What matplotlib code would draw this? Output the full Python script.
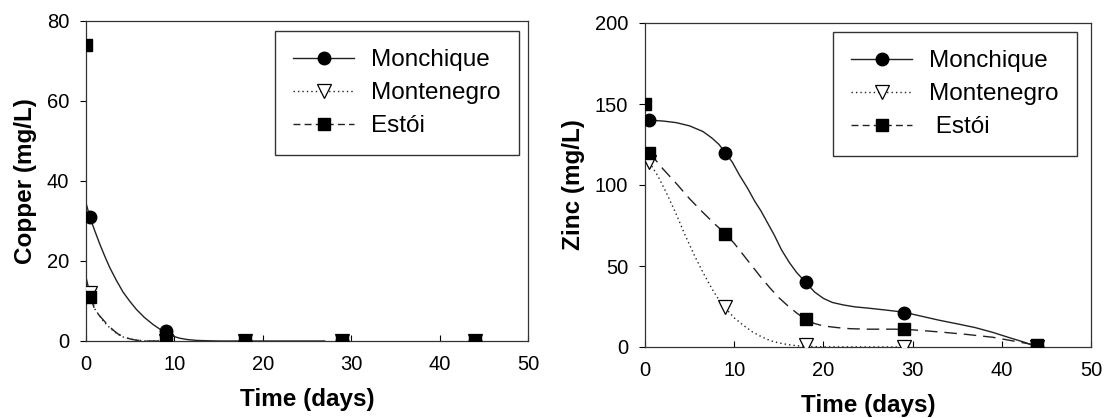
import matplotlib
matplotlib.use("Agg")
import matplotlib.pyplot as plt

plt.rcParams['font.family'] = ['Liberation Sans', 'DejaVu Sans']

# ---------------- data ----------------
series_names = ["Monchique", "Montenegro", "Estói"]

# Copper (mg/L)
cu_mon_t = [0.5, 9, 18, 29, 44]
cu_mon_v = [31, 2.6, 0, 0, 0]
cu_mtn_t = [0.5, 9, 18, 29, 44]
cu_mtn_v = [12, 0, 0, 0, 0]
cu_est_t = [0, 0.5, 9, 18, 29, 44]
cu_est_v = [74, 11, 0.4, 0, 0, 0]

# fitted curves (copper)
cu_mon_fit_t = [0, 0.45, 1.0, 1.6, 2.2, 2.7, 3.4, 4.2, 5.0, 5.7, 6.6, 7.6, 8.4, 9.1, 10.0,
                10.6, 11.5, 12.5, 14, 15, 27]
cu_mon_fit_v = [34.5, 30.9, 27.5, 24.0, 20.8, 18.3, 15.3, 12.2, 9.8, 7.9, 5.9, 4.1, 2.9, 2.0,
                1.1, 0.7, 0.35, 0.15, 0.05, 0, 0]
cu_mtn_fit_t = [0, 0.5, 1.0, 1.5, 1.96, 2.5, 3.1, 3.6, 4.2, 5.0, 5.7, 7, 9]
cu_mtn_fit_v = [15.5, 11.5, 8.0, 6.4, 5.0, 3.7, 2.5, 1.7, 1.0, 0.5, 0.2, 0, 0]
cu_est_fit_t = [0, 0.5, 1.0, 1.5, 1.96, 2.5, 3.1, 3.6, 4.2, 5.0, 5.7, 7, 9]
cu_est_fit_v = [16, 11, 7.8, 6.4, 5.25, 3.9, 2.7, 1.8, 1.1, 0.5, 0.2, 0, 0]

# Zinc (mg/L)
zn_mon_t = [0.5, 9, 18, 29, 44]
zn_mon_v = [140, 120, 40, 21, 0]
zn_mtn_t = [0.5, 9, 18, 29, 44]
zn_mtn_v = [114, 25, 1, 0, 0]
zn_est_t = [0, 0.5, 9, 18, 29, 44]
zn_est_v = [150, 120, 70, 17, 11, 1]

# fitted curves (zinc)
zn_mon_fit_t = [0.5, 2, 3.5, 5, 6.5, 7.5, 8.3, 9, 9.8, 10.6, 11.5, 12.3, 13, 13.7, 14.5, 15.3,
                16.2, 17, 18, 19, 20, 21, 22.2, 23.5, 25, 27, 29, 31, 33, 35, 37, 39, 41,
                42.5, 44]
zn_mon_fit_v = [140, 139.5, 138.5, 136.5, 133, 129, 125, 120, 114, 106, 98, 90, 84, 77, 69, 60,
                52, 46, 40, 34, 30, 27.5, 26, 24.8, 24, 22.8, 21.5, 19, 16.5, 14.3, 12, 9, 5.5,
                3, 0]
zn_mtn_fit_t = [0.5, 1.5, 2.5, 3.5, 4.5, 5.5, 6.5, 7.5, 8.3, 9, 10, 11, 12, 13, 14, 15, 16, 17,
                18, 20, 29]
zn_mtn_fit_v = [114, 105, 94, 82, 69, 57, 46, 36, 29, 24, 18, 13.5, 9.5, 6.5, 4, 2.5, 1.5, 0.8,
                0.4, 0.1, 0]
zn_est_fit_t = [0.5, 2, 3.5, 5, 6.5, 8, 9, 10, 11, 12, 13, 14, 15, 16, 17, 18, 19, 20, 21.5,
                23, 25, 28, 30, 33, 36, 39, 42, 44]
zn_est_fit_v = [120, 110, 101, 91.5, 83, 75, 70, 64, 57, 50, 43, 36.5, 30.5, 25.5, 21, 17,
                14.5, 13, 12, 11.3, 11, 11, 10.6, 9.3, 7.8, 6, 3, 1]

cu_xticks = [0, 10, 20, 30, 40, 50]
cu_yticks = [0, 20, 40, 60, 80]
zn_xticks = [0, 10, 20, 30, 40, 50]
zn_yticks = [0, 50, 100, 150, 200]

# ---------------- figure ----------------
W, H = 1105, 418
fig = plt.figure(figsize=(W / 100, H / 100), dpi=100)

ax1 = fig.add_axes([86 / W, (H - 341) / H, 442 / W, 320 / H])
ax2 = fig.add_axes([645 / W, (H - 347) / H, 446 / W, 324 / H])

lc = '#222222'
lw = 1.0
ms = 9
dash_est = (0, (9, 5))
dot_mtn = (0, (1, 2.2))


def draw(ax, mon, mtn, est, mon_fit, mtn_fit, est_fit):
    ax.plot(*mon_fit, color=lc, lw=lw, ls='-', zorder=2)
    ax.plot(*mtn_fit, color=lc, lw=lw, ls=dot_mtn, zorder=2)
    ax.plot(*est_fit, color=lc, lw=lw, ls=dash_est, zorder=2)
    ax.plot(*mon, ls='none', marker='o', ms=ms, mfc='black', mec='black', zorder=3)
    ax.plot(*mtn, ls='none', marker='v', ms=ms + 0.5, mfc='white', mec='black', mew=0.9, zorder=3)
    ax.plot(*est, ls='none', marker='s', ms=ms - 0.5, mfc='black', mec='black', zorder=4)
    # legend proxies
    h1, = ax.plot([], [], color=lc, lw=lw, ls='-', marker='o', ms=ms, mfc='black', mec='black')
    h2, = ax.plot([], [], color=lc, lw=lw, ls=dot_mtn, marker='v', ms=ms + 0.5, mfc='white',
                  mec='black', mew=0.9)
    h3, = ax.plot([], [], color=lc, lw=lw, ls=(0, (5, 3)), marker='s', ms=ms - 0.5,
                  mfc='black', mec='black')
    return [h1, h2, h3]


handles1 = draw(ax1, (cu_mon_t, cu_mon_v), (cu_mtn_t, cu_mtn_v), (cu_est_t, cu_est_v),
                (cu_mon_fit_t, cu_mon_fit_v), (cu_mtn_fit_t, cu_mtn_fit_v),
                (cu_est_fit_t, cu_est_fit_v))
handles2 = draw(ax2, (zn_mon_t, zn_mon_v), (zn_mtn_t, zn_mtn_v), (zn_est_t, zn_est_v),
                (zn_mon_fit_t, zn_mon_fit_v), (zn_mtn_fit_t, zn_mtn_fit_v),
                (zn_est_fit_t, zn_est_fit_v))

for ax, xt, yt, ylab in [(ax1, cu_xticks, cu_yticks, 'Copper (mg/L)'),
                         (ax2, zn_xticks, zn_yticks, 'Zinc (mg/L)')]:
    ax.set_xlim(xt[0], xt[-1])
    ax.set_ylim(yt[0], yt[-1])
    ax.set_xticks(xt)
    ax.set_yticks(yt)
    ax.tick_params(axis='x', direction='in', length=4, width=0.8, pad=10, labelsize=14.5,
                   top=False)
    ax.tick_params(axis='y', direction='out', length=4, width=0.8, pad=8, labelsize=14.5,
                   right=False)
    for s in ax.spines.values():
        s.set_linewidth(0.9)
        s.set_color('#333333')
    ax.set_xlabel('Time (days)', fontsize=17.5, fontweight='bold', labelpad=10)
    ax.set_ylabel(ylab, fontsize=17.5, fontweight='bold', labelpad=7)

leg_kw = dict(loc='upper right', fontsize=17.5, numpoints=1, frameon=True, fancybox=False,
              shadow=False, borderaxespad=0, handlelength=2.5, handletextpad=0.7,
              labelspacing=0.45, borderpad=0.75)
lg1 = ax1.legend(handles1, series_names, bbox_to_anchor=(1 - 9 / 442, 1 - 10 / 320), **leg_kw)
lg2 = ax2.legend(handles2, ["Monchique", "Montenegro", " Estói"],
                 bbox_to_anchor=(1 - 14 / 446, 1 - 9 / 324), **leg_kw)
for lg in (lg1, lg2):
    fr = lg.get_frame()
    fr.set_edgecolor('#333333')
    fr.set_linewidth(1.0)
    fr.set_alpha(1)

fig.savefig('out.png', dpi=100)
